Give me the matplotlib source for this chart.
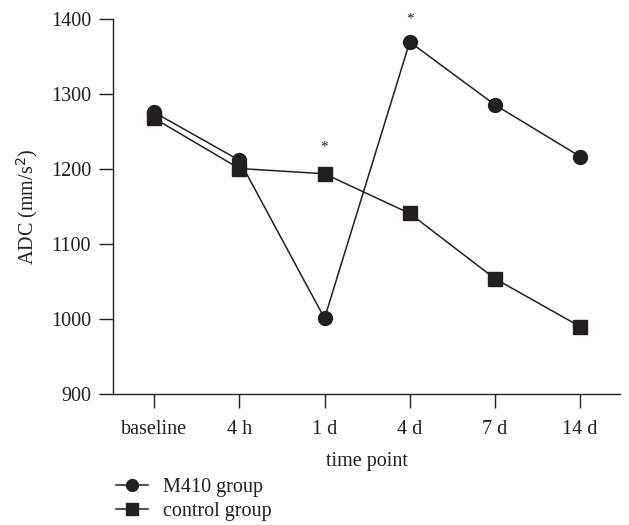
import matplotlib.pyplot as plt

plt.rcParams['font.family'] = ['Liberation Serif', 'DejaVu Serif']

# values
time_points = ['baseline', '4 h', '1 d', '4 d', '7 d', '14 d']
m410 = [1276, 1212, 1001, 1370, 1286, 1217]
control = [1268, 1201, 1194, 1141, 1054, 990]
star_idx = [2, 3]
star_y = [1229, 1401]

ink = '#231f20'
x = list(range(len(time_points)))

fig = plt.figure(figsize=(6.29, 5.25), dpi=100)
ax = fig.add_axes([0.18, 0.2495, 0.806, 0.7135])

ax.plot(x, m410, color=ink, lw=1.1, marker='o', ms=10, label='M410 group', zorder=3)
ax.plot(x, control, color=ink, lw=1.1, marker='s', ms=10, label='control group', zorder=3)

for i, yv in zip(star_idx, star_y):
    ax.text(i, yv, '*', ha='center', va='center', fontsize=11, color=ink)

ax.set_xlim(-0.48, 5.47)
ax.set_ylim(900, 1400)
ax.set_yticks([900, 1000, 1100, 1200, 1300, 1400])
ax.set_xticks(x)
ax.set_xticklabels(time_points)

for s in ['top', 'right']:
    ax.spines[s].set_visible(False)
for s in ['left', 'bottom']:
    ax.spines[s].set_color(ink)
    ax.spines[s].set_linewidth(1.0)

ax.tick_params(direction='out', length=10, width=1.0, color=ink,
               labelsize=14.5, labelcolor=ink)
ax.tick_params(axis='x', pad=9)
ax.tick_params(axis='y', pad=6)

ax.set_xlabel('time point', fontsize=14.5, color=ink, labelpad=9)
ax.set_ylabel('ADC (mm/s$^2$)', fontsize=14.5, color=ink, labelpad=8)

leg = fig.legend(loc='upper left', bbox_to_anchor=(0.185, 0.09), frameon=False,
                 fontsize=14.5, handlelength=1.55, handletextpad=0.75,
                 labelspacing=0.25, borderaxespad=0, borderpad=0,
                 markerscale=0.85)
for t in leg.get_texts():
    t.set_color(ink)

fig.savefig('out.png', dpi=100)
